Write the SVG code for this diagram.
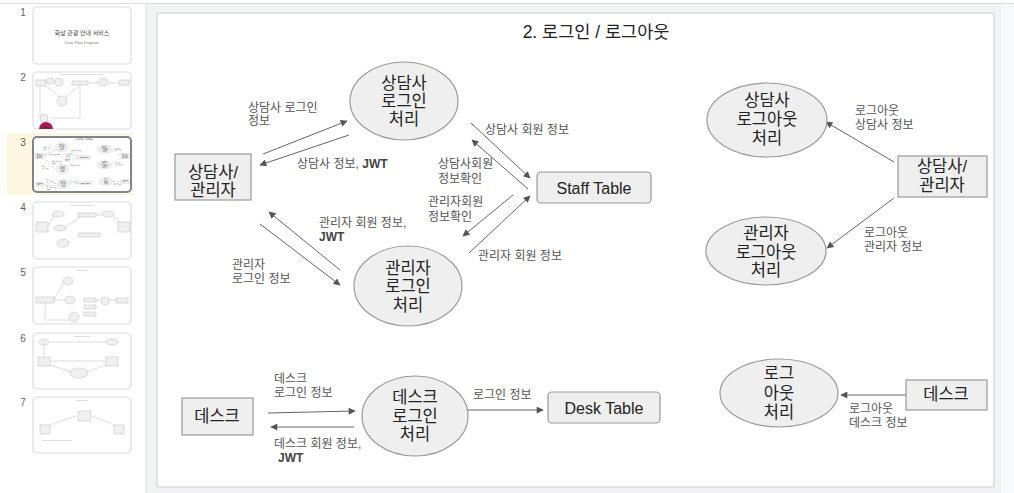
<svg xmlns="http://www.w3.org/2000/svg" xmlns:xlink="http://www.w3.org/1999/xlink" width="1014" height="493" viewBox="0 0 1014 493">
<style>
  text { font-family: "Liberation Sans", "Noto Sans CJK KR", sans-serif; }
  .node { fill: #efefef; stroke: #9a9a9a; stroke-width: 1.2; }
  .nt { font-size: 16.5px; fill: #222; text-anchor: middle; }
  .lbl { font-size: 12px; fill: #555; }
  .jwt { font-weight: bold; fill: #444; }
  .conn line { stroke: #666; stroke-width: 1; marker-end: url(#ah); }
  .thumb { fill: #fff; stroke: #dadce0; stroke-width: 1.2; }
  .num { font-size: 10px; fill: #5f6368; text-anchor: middle; }
  .mini { fill: #f0f0f0; stroke: #bbb; stroke-width: 0.5; }
  .ml { stroke: #bbb; stroke-width: 0.5; }
</style>
<defs>
  <marker id="ah" viewBox="0 0 10 10" refX="9" refY="5" markerWidth="8" markerHeight="7" markerUnits="userSpaceOnUse" orient="auto">
    <path d="M0,0 L10,5 L0,10 z" fill="#555"/>
  </marker>
  <clipPath id="c2"><rect x="33" y="72" width="98" height="57" rx="4"/></clipPath>
</defs>

<!-- app background -->
<rect x="0" y="0" width="1014" height="493" fill="#f1f3f4"/>
<rect x="0" y="0" width="145" height="493" fill="#ffffff"/>
<rect x="145" y="4" width="2" height="489" fill="#e8eaed"/>
<rect x="1001" y="4" width="13" height="489" fill="#f8f9fa"/>
<rect x="0" y="0" width="1014" height="3" fill="#ffffff"/>
<line x1="0" y1="3.5" x2="1014" y2="3.5" stroke="#dadce0" stroke-width="1"/>

<!-- slide -->
<rect x="157" y="13" width="837" height="474" fill="none" stroke="#e0e2e6" stroke-width="2"/>
<g id="slide">
  <rect x="158" y="14" width="835" height="472" fill="#ffffff"/>
  <text id="title" x="596" y="38" font-size="17.5" fill="#222" text-anchor="middle">2. 로그인 / 로그아웃</text>

  <g id="connectors" class="conn">
    <line x1="263" y1="154" x2="347" y2="121"/>
    <line x1="349" y1="135" x2="260" y2="165"/>
    <line x1="471" y1="123" x2="530" y2="178"/>
    <line x1="528" y1="189" x2="472" y2="140"/>
    <line x1="513" y1="195" x2="463" y2="236"/>
    <line x1="469" y1="253" x2="530" y2="196"/>
    <line x1="340" y1="270" x2="269" y2="212"/>
    <line x1="260" y1="224" x2="340" y2="285"/>
    <line x1="268" y1="413" x2="355" y2="411"/>
    <line x1="354" y1="427" x2="271" y2="427"/>
    <line x1="468" y1="410" x2="543" y2="410"/>
    <line x1="894" y1="162" x2="826" y2="122"/>
    <line x1="894" y1="198" x2="827" y2="248"/>
    <line x1="906" y1="395" x2="841" y2="395"/>
  </g>

  <g id="labels">
    <text class="lbl" x="248" y="112">상담사 로그인</text>
    <text class="lbl" x="248" y="125">정보</text>
    <text class="lbl" x="297" y="168">상담사 정보, <tspan class="jwt">JWT</tspan></text>
    <text class="lbl" x="485" y="134">상담사 회원 정보</text>
    <text class="lbl" x="438" y="168">상담사회원</text>
    <text class="lbl" x="438" y="183">정보확인</text>
    <text class="lbl" x="428" y="206">관리자회원</text>
    <text class="lbl" x="428" y="221">정보확인</text>
    <text class="lbl" x="319" y="227">관리자 회원 정보,</text>
    <text class="lbl jwt" x="319" y="241">JWT</text>
    <text class="lbl" x="232" y="269">관리자</text>
    <text class="lbl" x="232" y="283">로그인 정보</text>
    <text class="lbl" x="478" y="260">관리자 회원 정보</text>
    <text class="lbl" x="274" y="383">데스크</text>
    <text class="lbl" x="274" y="397">로그인 정보</text>
    <text class="lbl" x="473" y="399">로그인 정보</text>
    <text class="lbl" x="274" y="448">데스크 회원 정보,</text>
    <text class="lbl jwt" x="278" y="462">JWT</text>
    <text class="lbl" x="855" y="115">로그아웃</text>
    <text class="lbl" x="855" y="129">상담사 정보</text>
    <text class="lbl" x="864" y="237">로그아웃</text>
    <text class="lbl" x="864" y="251">관리자 정보</text>
    <text class="lbl" x="849" y="413">로그아웃</text>
    <text class="lbl" x="849" y="427">데스크 정보</text>
  </g>

  <g id="actor-left">
    <rect class="node" x="175" y="154" width="76" height="46"/>
    <text class="nt" x="213" y="178" font-size="17">상담사/</text>
    <text class="nt" x="213" y="196" font-size="17">관리자</text>
  </g>
  <g id="counselor-login">
    <ellipse class="node" cx="404" cy="101" rx="54" ry="39"/>
    <text class="nt" x="404" y="89">상담사</text>
    <text class="nt" x="404" y="107">로그인</text>
    <text class="nt" x="404" y="125">처리</text>
  </g>
  <g id="admin-login">
    <ellipse class="node" cx="408" cy="286" rx="54" ry="40"/>
    <text class="nt" x="408" y="274">관리자</text>
    <text class="nt" x="408" y="292">로그인</text>
    <text class="nt" x="408" y="311">처리</text>
  </g>
  <g id="staff-table">
    <rect class="node" x="537" y="172" width="114" height="31" rx="4"/>
    <text x="594" y="194" font-size="16" fill="#222" text-anchor="middle">Staff Table</text>
  </g>
  <g id="desk-left">
    <rect class="node" x="182" y="398" width="71" height="37"/>
    <text class="nt" x="217" y="422" font-size="17">데스크</text>
  </g>
  <g id="desk-login">
    <ellipse class="node" cx="415" cy="416" rx="53" ry="40"/>
    <text class="nt" x="415" y="403">데스크</text>
    <text class="nt" x="415" y="422">로그인</text>
    <text class="nt" x="415" y="440">처리</text>
  </g>
  <g id="desk-table">
    <rect class="node" x="548" y="392" width="112" height="31" rx="4"/>
    <text x="604" y="414" font-size="16" fill="#222" text-anchor="middle">Desk Table</text>
  </g>
  <g id="counselor-logout">
    <ellipse class="node" cx="767" cy="120" rx="60" ry="37"/>
    <text class="nt" x="767" y="106">상담사</text>
    <text class="nt" x="767" y="125">로그아웃</text>
    <text class="nt" x="767" y="144">처리</text>
  </g>
  <g id="actor-right">
    <rect class="node" x="898" y="156" width="89" height="41"/>
    <text class="nt" x="942" y="172">상담사/</text>
    <text class="nt" x="942" y="191">관리자</text>
  </g>
  <g id="admin-logout">
    <ellipse class="node" cx="766" cy="251" rx="60" ry="34"/>
    <text class="nt" x="766" y="239">관리자</text>
    <text class="nt" x="766" y="258">로그아웃</text>
    <text class="nt" x="766" y="276">처리</text>
  </g>
  <g id="desk-logout">
    <ellipse class="node" cx="779" cy="393" rx="59" ry="34"/>
    <text class="nt" x="779" y="379">로그</text>
    <text class="nt" x="779" y="399">아웃</text>
    <text class="nt" x="779" y="418">처리</text>
  </g>
  <g id="desk-right">
    <rect class="node" x="906" y="380" width="81" height="30"/>
    <text class="nt" x="946" y="400" font-size="17">데스크</text>
  </g>
</g>

<!-- sidebar thumbnails -->
<g id="sidebar">
  <rect x="7" y="133" width="126" height="62" fill="#fef7e0"/>
  <text class="num" x="23" y="16">1</text>
  <text class="num" x="23" y="81">2</text>
  <text class="num" x="23" y="146">3</text>
  <text class="num" x="23" y="211">4</text>
  <text class="num" x="23" y="276">5</text>
  <text class="num" x="23" y="342">6</text>
  <text class="num" x="23" y="406">7</text>

  <rect class="thumb" x="33" y="7" width="98" height="57" rx="4"/>
  <text x="82" y="35" font-size="6" fill="#444" text-anchor="middle">화상 관광 안내 서비스</text>
  <text x="82" y="44" font-size="4" fill="#888" text-anchor="middle">Data Flow Diagram</text>

  <rect class="thumb" x="33" y="72" width="98" height="57" rx="4"/>
  <g clip-path="url(#c2)">
    <rect x="60" y="74" width="44" height="1" fill="#ddd"/>
    <rect class="mini" x="36" y="80" width="10" height="6"/>
    <ellipse class="mini" cx="50" cy="81" rx="4" ry="3"/>
    <ellipse class="mini" cx="59" cy="82" rx="4" ry="4"/>
    <rect class="mini" x="72" y="81" width="16" height="4"/>
    <ellipse class="mini" cx="103" cy="82" rx="5" ry="4"/>
    <rect class="mini" x="119" y="80" width="10" height="5"/>
    <ellipse class="mini" cx="62" cy="101" rx="5" ry="5"/>
    <line class="ml" x1="40" y1="86" x2="40" y2="120"/>
    <line class="ml" x1="46" y1="86" x2="60" y2="97"/>
    <line class="ml" x1="66" y1="97" x2="80" y2="85"/>
    <line class="ml" x1="88" y1="83" x2="98" y2="83"/>
    <line class="ml" x1="108" y1="83" x2="119" y2="83"/>
    <line class="ml" x1="80" y1="85" x2="80" y2="118"/>
    <line class="ml" x1="50" y1="118" x2="80" y2="118"/>
    <ellipse class="mini" cx="44" cy="118" rx="4" ry="4"/>
    <circle cx="46" cy="129" r="7" fill="#b0155a"/>
    <circle cx="46" cy="130" r="4" fill="#6b2c2c"/>
  </g>

  <rect x="33" y="137" width="98" height="55" fill="#fff"/>
  <use xlink:href="#slide" href="#slide" transform="translate(33,137) scale(0.1174) translate(-158,-14)"/>
  <rect x="33" y="137" width="98" height="55" rx="4" fill="none" stroke="#80868b" stroke-width="2"/>

  <rect class="thumb" x="33" y="202" width="98" height="57" rx="4"/>
  <rect x="70" y="205" width="24" height="1" fill="#ddd"/>
  <rect class="mini" x="36" y="222" width="12" height="10"/>
  <ellipse class="mini" cx="58" cy="214" rx="6" ry="3"/>
  <ellipse class="mini" cx="60" cy="228" rx="6" ry="3"/>
  <ellipse class="mini" cx="63" cy="243" rx="6" ry="4"/>
  <rect class="mini" x="78" y="213" width="18" height="4"/>
  <ellipse class="mini" cx="108" cy="214" rx="6" ry="3"/>
  <rect class="mini" x="118" y="222" width="12" height="10"/>
  <rect class="mini" x="78" y="233" width="22" height="4"/>
  <line class="ml" x1="48" y1="226" x2="54" y2="216"/>
  <line class="ml" x1="64" y1="228" x2="80" y2="217"/>
  <line class="ml" x1="96" y1="215" x2="102" y2="215"/>
  <line class="ml" x1="114" y1="216" x2="120" y2="222"/>

  <rect class="thumb" x="33" y="267" width="98" height="57" rx="4"/>
  <rect x="76" y="270" width="12" height="1" fill="#ddd"/>
  <rect class="mini" x="36" y="297" width="18" height="6"/>
  <ellipse class="mini" cx="68" cy="281" rx="5" ry="4"/>
  <ellipse class="mini" cx="70" cy="300" rx="5" ry="4"/>
  <ellipse class="mini" cx="74" cy="317" rx="5" ry="5"/>
  <rect class="mini" x="84" y="298" width="12" height="4"/>
  <rect class="mini" x="84" y="305" width="12" height="4"/>
  <rect class="mini" x="84" y="312" width="12" height="4"/>
  <ellipse class="mini" cx="105" cy="301" rx="4" ry="4"/>
  <rect class="mini" x="116" y="298" width="12" height="5"/>
  <line class="ml" x1="54" y1="299" x2="64" y2="283"/>
  <line class="ml" x1="54" y1="300" x2="65" y2="300"/>
  <line class="ml" x1="45" y1="303" x2="45" y2="320"/>
  <line class="ml" x1="45" y1="320" x2="69" y2="320"/>
  <line class="ml" x1="96" y1="300" x2="101" y2="300"/>
  <line class="ml" x1="109" y1="300" x2="116" y2="300"/>

  <rect class="thumb" x="33" y="333" width="98" height="56" rx="4"/>
  <rect x="74" y="336" width="16" height="1" fill="#ddd"/>
  <ellipse class="mini" cx="44" cy="342" rx="5" ry="3"/>
  <ellipse class="mini" cx="112" cy="342" rx="6" ry="3"/>
  <rect class="mini" x="38" y="357" width="12" height="9"/>
  <rect class="mini" x="106" y="357" width="12" height="9"/>
  <ellipse class="mini" cx="79" cy="373" rx="9" ry="5"/>
  <line class="ml" x1="50" y1="342" x2="106" y2="342"/>
  <line class="ml" x1="44" y1="345" x2="44" y2="357"/>
  <line class="ml" x1="50" y1="361" x2="106" y2="361"/>
  <line class="ml" x1="50" y1="365" x2="71" y2="372"/>
  <line class="ml" x1="106" y1="365" x2="87" y2="372"/>

  <rect class="thumb" x="33" y="397" width="98" height="56" rx="4"/>
  <rect x="76" y="400" width="12" height="1" fill="#ddd"/>
  <rect class="mini" x="78" y="411" width="13" height="10"/>
  <rect class="mini" x="40" y="425" width="10" height="9"/>
  <rect class="mini" x="114" y="425" width="10" height="9"/>
  <line class="ml" x1="50" y1="425" x2="76" y2="416"/>
  <line class="ml" x1="114" y1="425" x2="92" y2="416"/>
  <rect x="42" y="440" width="30" height="1" fill="#ddd"/>
</g>
</svg>
